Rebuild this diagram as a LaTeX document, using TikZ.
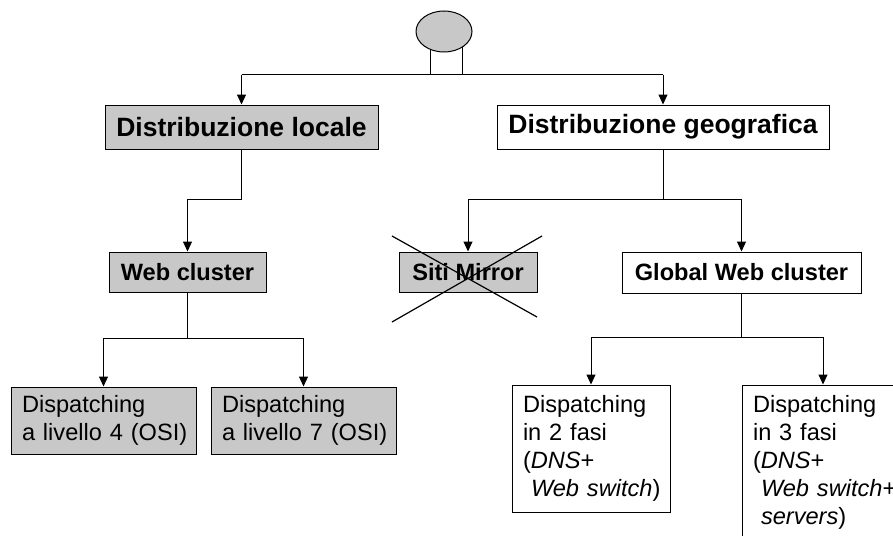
\documentclass[tikz,border=0pt]{standalone}
\usepackage{fontspec}
\setmainfont{Liberation Sans}
\usetikzlibrary{arrows.meta,shapes.geometric,calc}
\definecolor{boxgray}{RGB}{200,200,200}
\begin{document}
\begin{tikzpicture}[x=1pt,y=-1pt,
  line width=1pt,
  arr/.style={-{Triangle[length=10pt,width=9pt]}},
  gbox/.style={draw, fill=boxgray, inner sep=0pt},
  wbox/.style={draw, fill=white, inner sep=0pt},
  bigl/.style={font=\fontsize{26.5}{30}\selectfont\bfseries},
  smal/.style={font=\fontsize{23.6}{28}\selectfont\bfseries},
  multi/.style={font=\fontsize{23.6}{28}\selectfont, align=left, inner xsep=11pt, inner ysep=0pt}]
\clip (0,0) rectangle (893,535);

% root
\node[wbox, minimum width=32, minimum height=34] (trunk) at (446,57) {};
\node[draw, fill=boxgray, ellipse, minimum width=56, minimum height=41, inner sep=0pt] (root) at (444,31.5) {};

% level 1
\node[gbox, bigl, minimum width=273, minimum height=44] (loc) at (241.5,127) {Distribuzione locale};
\node[wbox, bigl, minimum width=332, minimum height=44] (geo) at (663,127) {Distribuzione geografica};

% level 2
\node[gbox, smal, minimum width=157, minimum height=40] (web) at (187.5,272) {Web cluster};
\node[gbox, smal, minimum width=138, minimum height=40] (mir) at (468,272) {Siti Mirror};
\node[wbox, smal, minimum width=239, minimum height=41] (glob) at (741.5,272.5) {Global Web cluster};

% level 3
\node[gbox, multi, text width=163, minimum height=67] (d4) at (103.5,420.5)
  {\mbox{Dispatching}\\\mbox{a livello 4 (OSI)}};
\node[gbox, multi, text width=163, minimum height=67] (d7) at (303.5,420.5)
  {\mbox{Dispatching}\\\mbox{a livello 7 (OSI)}};
\node[wbox, multi, text width=136, minimum height=127] (d2) at (591,448.5)
  {\mbox{Dispatching}\\in 2 fasi\\(\textit{DNS}+\\\hspace*{8pt}\mbox{\textit{Web switch})}};
\node[wbox, multi, text width=140, minimum height=155] (d3) at (823,462.5)
  {\mbox{Dispatching}\\in 3 fasi\\(\textit{DNS}+\\\hspace*{8pt}\mbox{\textit{Web switch}+}\\\hspace*{8pt}\textit{servers})};

% connectors
\coordinate (tl) at (loc.north |- trunk.south);
\coordinate (tr) at (geo.north |- trunk.south);
\draw (tl) -- (tr);
\draw[arr] (tl) -- (loc.north);
\draw[arr] (tr) -- (geo.north);

\coordinate (lj) at ($(loc.south)+(0,50)$);
\draw (loc.south) -- (lj);
\draw[arr] (lj) -| (web.north);

\coordinate (gj) at ($(geo.south)+(0,50)$);
\draw (geo.south) -- (gj);
\draw[arr] (gj) -| (mir.north);
\draw[arr] (gj) -| (glob.north);

\coordinate (wj) at ($(web.south)+(0,46)$);
\draw (web.south) -- (wj);
\draw[arr] (wj) -| (d4.north);
\draw[arr] (wj) -| (d7.north);

\coordinate (cj) at ($(glob.south)+(0,44)$);
\draw (glob.south) -- (cj);
\draw[arr] (cj) -| (d2.north);
\draw[arr] (cj) -| (d3.north);

% cross over Siti Mirror
\draw[line width=1.2pt] (392,236) -- (537,317);
\draw[line width=1.2pt] (392,322) -- (542,236);
\end{tikzpicture}
\end{document}
